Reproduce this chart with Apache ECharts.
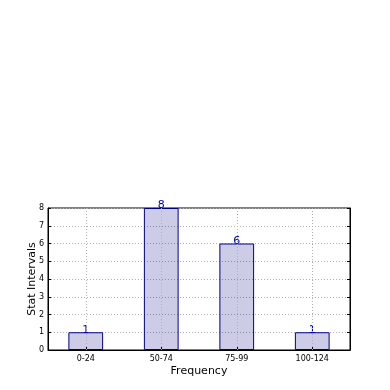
<!DOCTYPE html>
<html><head><meta charset="utf-8">
<script src="https://cdn.jsdelivr.net/npm/echarts@6/dist/echarts.min.js"></script>
<style>html,body{margin:0;padding:0;background:#fff}#c{width:390px;height:390px}</style>
</head><body><div id="c"></div>
<script>
const categories = ['0-24', '50-74', '75-99', '100-124'];
const values = [1, 8, 6, 1];
const yTicks = [0, 1, 2, 3, 4, 5, 6, 7, 8];

const chart = echarts.init(document.getElementById('c'), null, {renderer: 'canvas'});
const font = 'DejaVu Sans';
chart.setOption({
  animation: false,
  backgroundColor: '#fff',
  grid: {left: 48, right: 40, top: 208, bottom: 40, show: true, borderColor: '#000', borderWidth: 1, backgroundColor: 'transparent'},
  xAxis: {
    type: 'category', data: categories, boundaryGap: true,
    name: 'Frequency', nameLocation: 'middle', nameGap: 16,
    nameTextStyle: {fontFamily: font, fontSize: 11, color: '#000'},
    axisLine: {lineStyle: {color: '#000'}},
    axisTick: {show: true, inside: true, alignWithLabel: true, length: 3, lineStyle: {color: '#000'}},
    axisLabel: {fontFamily: font, fontSize: 8, color: '#000', margin: 5},
    splitLine: {show: false}
  },
  yAxis: [{
    type: 'value', min: yTicks[0], max: yTicks[yTicks.length - 1], interval: 1,
    name: 'Stat Intervals', nameLocation: 'middle', nameGap: 10, nameMoveOverlap: false,
    nameTextStyle: {fontFamily: font, fontSize: 11, color: '#000'},
    axisLine: {show: true, lineStyle: {color: '#000'}},
    axisTick: {show: true, inside: true, length: 3, lineStyle: {color: '#000'}},
    axisLabel: {fontFamily: font, fontSize: 8, color: '#000', margin: 4},
    splitLine: {show: true, lineStyle: {color: '#b0b0b0', type: [1, 2], width: 1}}
  }, {
    type: 'value', min: yTicks[0], max: yTicks[yTicks.length - 1], interval: 1, position: 'right',
    axisLine: {show: true, lineStyle: {color: '#000'}},
    axisTick: {show: true, inside: true, length: 3, lineStyle: {color: '#000'}},
    axisLabel: {show: false}, splitLine: {show: false}
  }],
  series: [{
    type: 'bar', data: values, barWidth: '46%',
    itemStyle: {color: 'rgba(0,0,128,0.2)', borderColor: '#000080', borderWidth: 1},
    label: {show: true, position: 'top', distance: -3, fontFamily: font, fontSize: 11, color: '#0000b0'},
    markLine: {
      silent: true, symbol: 'none', label: {show: false},
      lineStyle: {color: '#b0b0b0', type: [1, 2], width: 1},
      data: categories.map(c => ({xAxis: c}))
    }
  }]
});
</script></body></html>
